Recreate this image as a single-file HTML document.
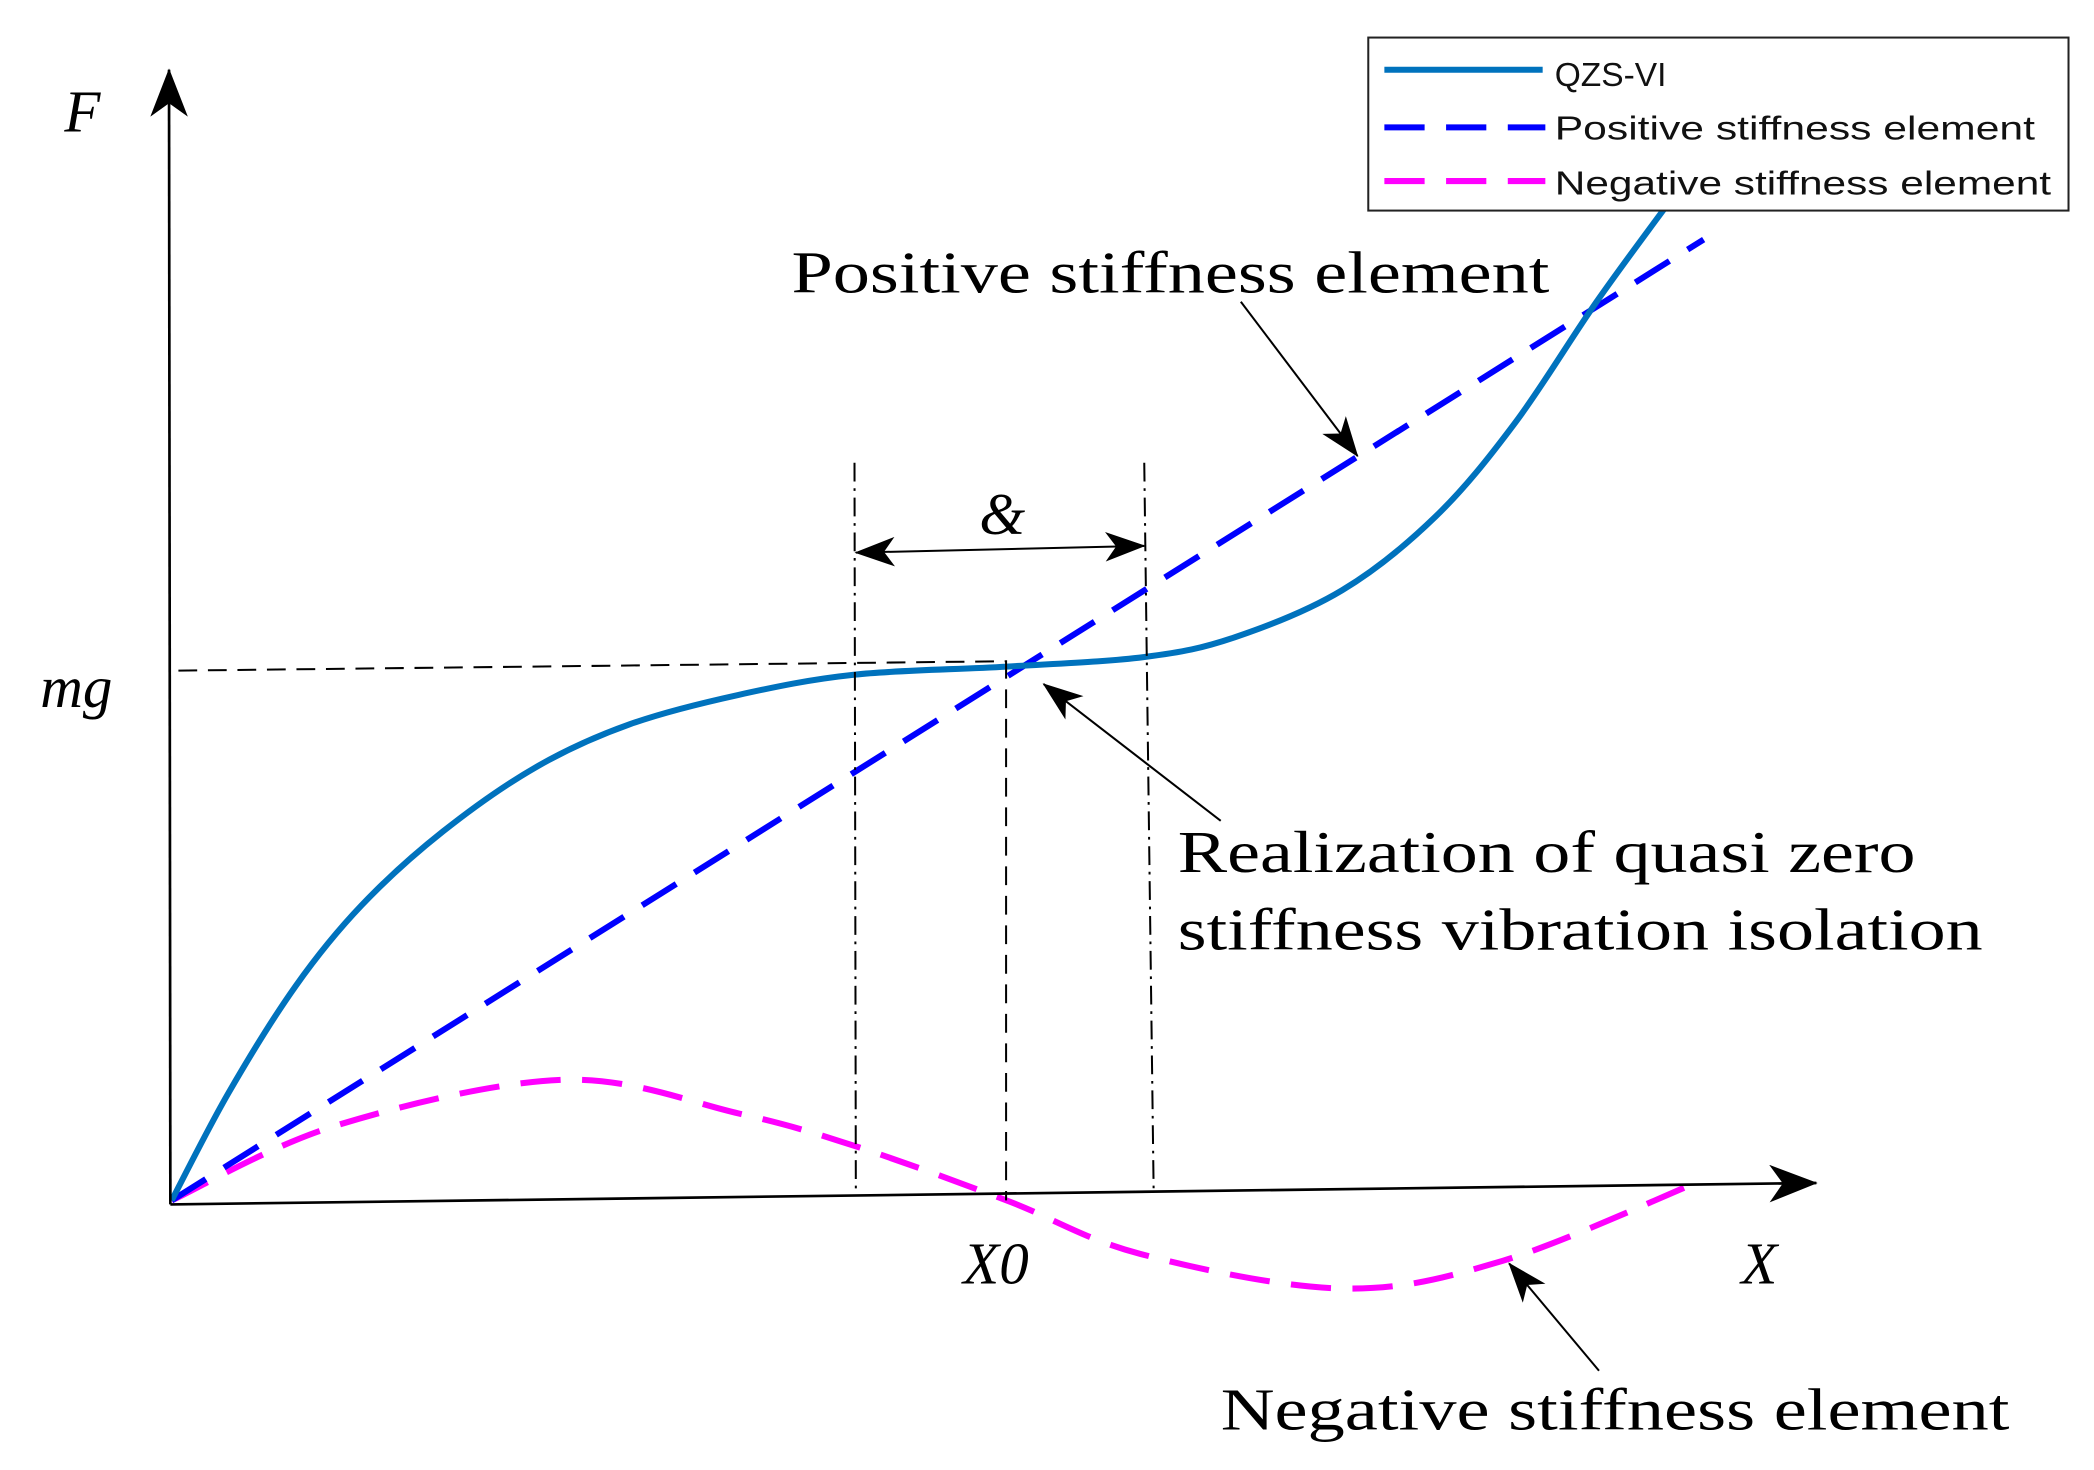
<!DOCTYPE html>
<html><head><meta charset="utf-8"><style>
html,body{margin:0;padding:0;background:#fff;}
svg{display:block;}
</style></head><body>
<svg id="chart" width="2094" height="1470" viewBox="0 0 1561 1096" preserveAspectRatio="none" xmlns="http://www.w3.org/2000/svg">
<defs>
<marker id="ah" viewBox="0 0 30 22" refX="29" refY="11" markerWidth="30" markerHeight="22" markerUnits="userSpaceOnUse" orient="auto-start-reverse">
<path d="M0,0 L30,11 L0,22 L8,11 Z" fill="#000"/>
</marker>
<marker id="ahBig" viewBox="0 0 36 28" refX="35" refY="14" markerWidth="36" markerHeight="28" markerUnits="userSpaceOnUse" orient="auto">
<path d="M0,0 L36,14 L0,28 L10,14 Z" fill="#000"/>
</marker>
</defs>
<g id="marks"></g>
<line x1="127" y1="898" x2="126" y2="52" stroke="#000" stroke-width="2" marker-end="url(#ahBig)"/>
<line x1="127" y1="898" x2="1354" y2="882" stroke="#000" stroke-width="2" marker-end="url(#ahBig)"/>
<g font-family="'Liberation Serif', serif" font-style="italic" fill="#000">
<text x="48" y="98" font-size="44">F</text>
<text x="30" y="527" font-size="44">mg</text>
<text x="718" y="957" font-size="44">X0</text>
<text x="1298" y="957" font-size="44">X</text>
<text x="730" y="398" font-size="44">&amp;</text>
</g>
<polyline points="133,500 750,493 750,895" fill="none" stroke="#000" stroke-width="1.5" stroke-dasharray="14,8"/>
<line x1="637" y1="345" x2="638" y2="890" stroke="#000" stroke-width="1.5" stroke-dasharray="14,5,2,5"/>
<line x1="853" y1="345" x2="860" y2="888" stroke="#000" stroke-width="1.5" stroke-dasharray="14,5,2,5"/>
<line x1="638" y1="412" x2="853" y2="407" stroke="#000" stroke-width="1.5" marker-start="url(#ah)" marker-end="url(#ah)"/>
<g font-family="'Liberation Serif', serif" fill="#000" font-size="44">
<text x="590" y="218" textLength="565" lengthAdjust="spacingAndGlyphs">Positive stiffness element</text>
<text x="878" y="650" textLength="550" lengthAdjust="spacingAndGlyphs">Realization of quasi zero</text>
<text x="878" y="708" textLength="600" lengthAdjust="spacingAndGlyphs">stiffness vibration isolation</text>
<text x="910" y="1066" textLength="588" lengthAdjust="spacingAndGlyphs">Negative stiffness element</text>
</g>
<line x1="925" y1="225" x2="1012" y2="340" stroke="#000" stroke-width="1.5" marker-end="url(#ah)"/>
<line x1="910" y1="612" x2="778" y2="510" stroke="#000" stroke-width="1.5" marker-end="url(#ah)"/>
<line x1="1192" y1="1022" x2="1125" y2="942" stroke="#000" stroke-width="1.5" marker-end="url(#ah)"/>
<g>
<rect x="1020" y="28" width="522" height="129" fill="#fff" stroke="#222" stroke-width="1.5"/>
<g>
<line x1="1032" y1="52" x2="1150" y2="52" stroke="#0072bd" stroke-width="4.5"/>
<text x="1159" y="64" font-family="'Liberation Sans', sans-serif" font-size="25" fill="#111">QZS-VI</text>
</g>
<g>
<line x1="1032" y1="95" x2="1152" y2="95" stroke="#0000ff" stroke-width="4.5" stroke-dasharray="30,16"/>
<text x="1159" y="104" font-family="'Liberation Sans', sans-serif" font-size="25" fill="#111" textLength="358" lengthAdjust="spacingAndGlyphs">Positive stiffness element</text>
</g>
<g>
<line x1="1032" y1="135" x2="1152" y2="135" stroke="#ff00ff" stroke-width="4.5" stroke-dasharray="30,16"/>
<text x="1159" y="145" font-family="'Liberation Sans', sans-serif" font-size="25" fill="#111" textLength="370" lengthAdjust="spacingAndGlyphs">Negative stiffness element</text>
</g>
</g>
</svg>
<script>
// data (normalized displacement, force in units of mg)
const qzsX = [0, 0.037, 0.081, 0.124, 0.177, 0.238, 0.299, 0.37, 0.446, 0.545, 0.635, 0.694, 0.764, 0.825, 0.877, 0.93, 0.978];
const qzsF = [0, 0.201, 0.402, 0.553, 0.691, 0.812, 0.892, 0.947, 0.985, 1.0, 1.018, 1.055, 1.143, 1.281, 1.457, 1.683, 1.872];
const posX = [0, 1];
const posF = [0, 1.80];
const negX = [0, 0.107, 0.256, 0.37, 0.448, 0.545, 0.632, 0.764, 0.869, 0.995];
const negF = [0, 0.14, 0.226, 0.163, 0.10, 0, -0.10, -0.165, -0.113, 0.033];

function sx(v){ return 128 + v * 1142; }
function sy(v){ return 895 - v * 398; }
function pathFrom(xs, ys){
  const p = xs.map((x,i)=>[sx(x), sy(ys[i])]);
  if (p.length < 3) return 'M' + p.map(q=>q.join(',')).join(' L');
  let d = 'M' + p[0][0] + ',' + p[0][1];
  for (let i=0;i<p.length-1;i++){
    const p0=p[Math.max(0,i-1)], p1=p[i], p2=p[i+1], p3=p[Math.min(p.length-1,i+2)];
    const c1=[p1[0]+(p2[0]-p0[0])/6, p1[1]+(p2[1]-p0[1])/6];
    const c2=[p2[0]-(p3[0]-p1[0])/6, p2[1]-(p3[1]-p1[1])/6];
    d += ' C'+c1[0]+','+c1[1]+' '+c2[0]+','+c2[1]+' '+p2[0]+','+p2[1];
  }
  return d;
}
const NS='http://www.w3.org/2000/svg';
const g=document.getElementById('marks');
function addPath(d, color, dash){
  const el=document.createElementNS(NS,'path');
  el.setAttribute('d', d);
  el.setAttribute('fill','none');
  el.setAttribute('stroke', color);
  el.setAttribute('stroke-width','4.5');
  if (dash) el.setAttribute('stroke-dasharray', dash);
  g.appendChild(el);
  return el;
}
const neg=addPath(pathFrom(negX,negF),'#ff00ff','30,16');


const pos=addPath(pathFrom(posX,posF),'#0000ff','30,16');


const qzs=addPath(pathFrom(qzsX,qzsF),'#0072bd',null);


</script>
</body></html>
